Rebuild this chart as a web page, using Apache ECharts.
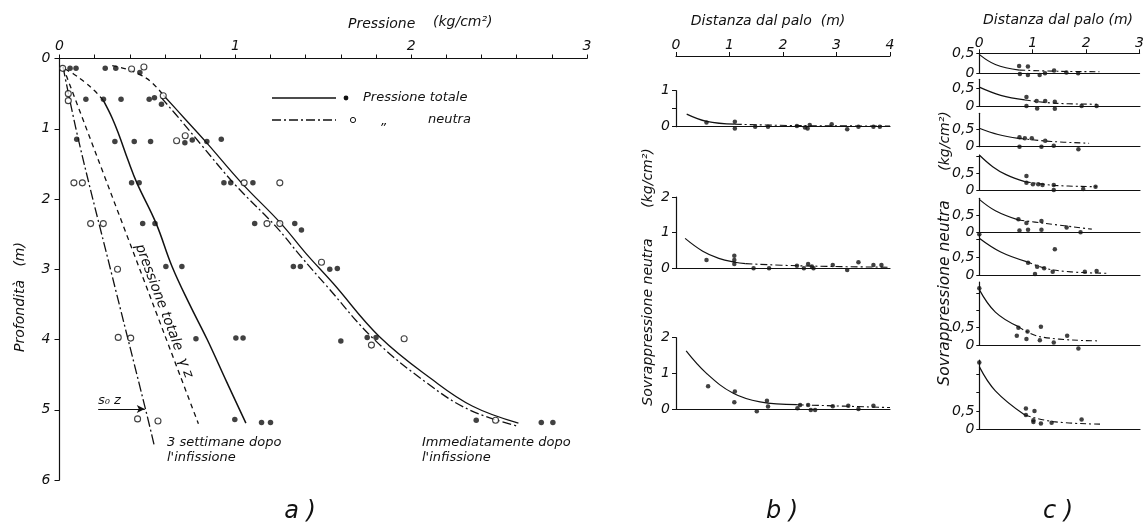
<!DOCTYPE html>
<html>
<head>
<meta charset="utf-8">
<script src="https://cdn.jsdelivr.net/npm/echarts@6/dist/echarts.min.js"></script>
<style>
  html, body { margin: 0; padding: 0; background: #fff; }
  #main { width: 1147px; height: 528px; }
</style>
</head>
<body>
<div id="main"></div>
<script>
var INK = '#111';
var FONT = 'DejaVu Sans';

/* ---------- panel a: pressione / profondità ---------- */
var pressMax = 3;
var depthMax = 6;
// pressione totale (punti pieni) [pressione, profondità]
var aTotale = [
  [0.06, 0.14], [0.094, 0.14], [0.26, 0.14], [0.32, 0.14], [0.457, 0.2],
  [0.15, 0.58], [0.25, 0.58], [0.35, 0.58], [0.51, 0.58], [0.54, 0.56], [0.58, 0.65],
  [0.098, 1.15], [0.315, 1.18], [0.425, 1.18], [0.518, 1.18], [0.713, 1.2], [0.755, 1.16], [0.838, 1.18], [0.92, 1.15],
  [0.41, 1.77], [0.453, 1.77], [0.935, 1.77], [0.974, 1.77], [1.10, 1.77],
  [0.473, 2.35], [0.543, 2.35], [1.11, 2.35], [1.338, 2.35], [1.376, 2.44],
  [0.605, 2.96], [0.696, 2.96], [1.33, 2.96], [1.37, 2.96], [1.537, 3.0], [1.58, 2.99],
  [0.776, 3.99], [1.003, 3.98], [1.044, 3.98], [1.60, 4.02], [1.75, 3.97], [1.80, 3.97],
  [0.997, 5.14], [1.149, 5.18], [1.2, 5.18], [2.37, 5.15], [2.74, 5.18], [2.806, 5.18]
];
// pressione neutra (punti vuoti)
var aNeutra = [
  [0.018, 0.14], [0.41, 0.15], [0.48, 0.12], [0.05, 0.5], [0.05, 0.6], [0.59, 0.53],
  [0.666, 1.17], [0.715, 1.10], [0.082, 1.77], [0.13, 1.77], [1.05, 1.77], [1.253, 1.77],
  [0.177, 2.35], [0.249, 2.35], [1.18, 2.35], [1.253, 2.35], [0.33, 3.0], [1.49, 2.9],
  [0.334, 3.97], [0.405, 3.98], [1.774, 4.08], [1.96, 3.99], [0.444, 5.13], [0.56, 5.16], [2.48, 5.15]
];
var immInizio = [[0.3, 0.1], [0.38, 0.15], [0.45, 0.22], [0.52, 0.33], [0.59, 0.52]];
var immTotale = [[0.59, 0.52], [0.71, 0.85], [0.83, 1.18], [1.035, 1.77], [1.26, 2.35], [1.4, 2.77], [1.556, 3.2], [1.82, 3.96], [2.12, 4.57], [2.35, 4.95], [2.61, 5.19]];
var immNeutra = [[0.58, 0.56], [0.69, 0.88], [0.8, 1.21], [1.0, 1.8], [1.23, 2.39], [1.37, 2.81], [1.52, 3.24], [1.79, 4.0], [2.09, 4.62], [2.33, 5.0], [2.6, 5.23]];
var setInizio = [[0.03, 0.15], [0.08, 0.22], [0.14, 0.33], [0.2, 0.46], [0.25, 0.6]];
var setTotale = [[0.25, 0.6], [0.3, 0.85], [0.34, 1.1], [0.39, 1.45], [0.44, 1.77], [0.55, 2.35], [0.64, 2.96], [0.74, 3.5], [0.84, 4.0], [0.95, 4.6], [1.06, 5.19]];
var gammaZ = [[0.02, 0.12], [0.79, 5.2]];
var s0z = [[0.02, 0.12], [0.11, 1.18], [0.29, 3.0], [0.49, 5.0], [0.54, 5.52]];
var s0zFreccia = [[0.22, 4.99], [0.485, 4.99]];

/* ---------- panel b: sovrappressione neutra ---------- */
var bDistMax = 4;
var bMax = [1, 2, 2];
var bPunti = [
  [[0.57, 0.12], [1.10, 0.14], [1.10, -0.05], [1.48, 0], [1.72, 0], [2.26, 0.02], [2.41, -0.02], [2.50, 0.05], [2.46, -0.05], [2.91, 0.07], [3.20, -0.07], [3.41, 0], [3.69, 0], [3.81, 0]],
  [[0.57, 0.23], [1.09, 0.35], [1.09, 0.23], [1.09, 0.12], [1.45, 0], [1.74, 0], [2.26, 0.07], [2.39, 0], [2.47, 0.12], [2.54, 0.05], [2.57, 0], [2.93, 0.09], [3.20, -0.05], [3.41, 0.17], [3.69, 0.09], [3.84, 0.09]],
  [[0.60, 0.64], [1.10, 0.49], [1.09, 0.19], [1.51, -0.06], [1.70, 0.23], [1.72, 0.07], [2.27, 0.02], [2.32, 0.11], [2.47, 0.11], [2.52, -0.03], [2.60, -0.03], [2.93, 0.08], [3.22, 0.09], [3.41, 0], [3.69, 0.09]]
];
var bCurva = [
  [[0.2, 0.35], [0.57, 0.15], [1.1, 0.07]],
  [[0.17, 0.84], [0.5, 0.48], [0.8, 0.28], [1.1, 0.17], [1.3, 0.13]],
  [[0.19, 1.63], [0.57, 1.0], [1.07, 0.44], [1.57, 0.2], [2.26, 0.12]]
];
var bCoda = [
  [[1.1, 0.07], [2.3, 0.03], [4.0, 0.02]],
  [[1.3, 0.13], [2.3, 0.07], [4.0, 0.03]],
  [[2.26, 0.12], [4.0, 0.04]]
];

/* ---------- panel c ---------- */
var cDistMax = 3;
var cMax = [0.5, 0.75, 0.96, 1.05, 0.97, 1.16, 1.82, 1.89];
var cPunti = [
  [[0.746, 0.18], [0.91, 0.17], [0.76, -0.02], [0.91, -0.04], [1.13, -0.04], [1.23, 0], [1.40, 0.07], [1.63, 0.02], [1.85, 0]],
  [[0.88, 0.25], [1.07, 0.14], [1.23, 0.14], [1.41, 0.12], [0.88, 0], [1.08, -0.07], [1.41, -0.08], [1.91, 0], [2.19, 0]],
  [[0.75, 0.27], [0.85, 0.24], [0.98, 0.24], [1.23, 0.17], [0.75, 0], [1.16, 0], [1.39, 0.03], [1.85, -0.07]],
  [[0.88, 0.42], [0.88, 0.22], [1.0, 0.17], [1.1, 0.17], [1.18, 0.15], [1.39, 0.15], [1.39, 0], [1.94, 0.03], [2.17, 0.1]],
  [[0.73, 0.38], [0.88, 0.27], [1.16, 0.33], [1.63, 0.15], [0.75, 0.06], [0.91, 0.08], [1.16, 0.08], [1.89, 0.01]],
  [[0, 1.15], [0.91, 0.35], [1.08, 0.23], [1.21, 0.19], [1.04, 0.03], [1.37, 0.09], [1.41, 0.73], [1.97, 0.09], [2.19, 0.11]],
  [[0, 1.64], [0.73, 0.5], [0.9, 0.39], [1.15, 0.53], [0.7, 0.27], [0.88, 0.17], [1.13, 0.14], [1.39, 0.07], [1.64, 0.27], [1.85, -0.1]],
  [[0, 1.82], [0.87, 0.57], [1.03, 0.5], [0.87, 0.39], [1.01, 0.25], [1.01, 0.2], [1.15, 0.16], [1.35, 0.18], [1.91, 0.27]]
];
var cCurva = [
  [[0.01, 0.46], [0.3, 0.22], [0.75, 0.08]],
  [[0, 0.53], [0.4, 0.3], [0.85, 0.17]],
  [[0, 0.53], [0.35, 0.35], [0.73, 0.24]],
  [[0, 1.05], [0.25, 0.7], [0.5, 0.46], [0.85, 0.25]],
  [[0, 0.94], [0.3, 0.62], [0.73, 0.36]],
  [[0, 1.04], [0.4, 0.65], [0.88, 0.38]],
  [[0, 1.6], [0.3, 0.95], [0.73, 0.53]],
  [[0, 1.71], [0.3, 1.05], [0.85, 0.39]]
];
var cCoda = [
  [[0.75, 0.08], [1.5, 0.05], [2.25, 0.04]],
  [[0.85, 0.17], [1.4, 0.08], [2.2, 0.05]],
  [[0.73, 0.24], [1.35, 0.15], [2.05, 0.1]],
  [[0.85, 0.25], [1.4, 0.14], [2.19, 0.1]],
  [[0.73, 0.36], [1.19, 0.27], [2.1, 0.1]],
  [[0.88, 0.38], [1.38, 0.14], [2.38, 0.05]],
  [[0.73, 0.53], [1.13, 0.24], [2.22, 0.12]],
  [[0.85, 0.39], [1.38, 0.21], [2.28, 0.14]]
];

/* ---------- layout (pixel) ---------- */
var bBox = [{ top: 90.7, zero: 126.7 }, { top: 197, zero: 268.3 }, { top: 337.7, zero: 409 }];
var cBox = [
  { top: 53.3, zero: 73.3 }, { top: 79.3, zero: 106 }, { top: 113.3, zero: 146.7 }, { top: 155, zero: 190 },
  { top: 198.3, zero: 232.7 }, { top: 234, zero: 275 }, { top: 282, zero: 345 }, { top: 360, zero: 429.3 }
];

var lbl = { color: INK, fontFamily: FONT, fontStyle: 'italic', fontSize: 14 };
function near(v, t) { return Math.abs(v - t) < 1e-6; }

var grids = [], xAxes = [], yAxes = [], series = [];

function dots(data, idx, filled, size) {
  return {
    type: 'scatter', xAxisIndex: idx, yAxisIndex: idx, data: data, symbol: 'circle',
    symbolSize: size, clip: false, silent: true, z: 3,
    itemStyle: filled ? { color: INK } : { color: '#fff', borderColor: INK, borderWidth: 1.1 }
  };
}
function curve(data, idx, type, w) {
  return {
    type: 'line', xAxisIndex: idx, yAxisIndex: idx, data: data, smooth: 0.4,
    showSymbol: false, symbol: 'none', clip: false, silent: true, z: 1,
    lineStyle: { color: INK, width: w || 1.3, type: type || 'solid' }
  };
}

/* grid 0: panel a */
grids.push({ left: 59.5, top: 58.5, width: 527.5, height: 421.5 });
xAxes.push({
  gridIndex: 0, type: 'value', position: 'top', min: 0, max: pressMax, interval: 0.2,
  axisLine: { lineStyle: { color: INK, width: 1.2 } },
  axisTick: { length: 4, lineStyle: { color: INK } },
  axisLabel: Object.assign({ margin: 5, formatter: function (v) { return near(v, Math.round(v)) ? String(Math.round(v)) : ''; } }, lbl),
  splitLine: { show: false }
});
yAxes.push({
  gridIndex: 0, type: 'value', inverse: true, min: 0, max: depthMax, interval: 1,
  axisLine: { show: true, lineStyle: { color: INK, width: 1.2 } },
  axisTick: { show: true, length: 5, lineStyle: { color: INK } },
  axisLabel: Object.assign({ margin: 9 }, lbl),
  splitLine: { show: false }
});
series.push(curve(immInizio, 0, [5, 4]));
series.push(curve(immTotale, 0, 'solid'));
series.push(curve(immNeutra, 0, [9, 3, 2, 3]));
series.push(curve(setInizio, 0, [5, 4]));
series.push(curve(setTotale, 0, 'solid', 1.5));
series.push(curve(gammaZ, 0, [5, 4]));
series.push(curve(s0z, 0, [10, 3, 2, 3]));
series.push(dots(aTotale, 0, true, 5.5));
series.push(dots(aNeutra, 0, false, 6));
series.push({
  type: 'line', xAxisIndex: 0, yAxisIndex: 0, data: [], silent: true,
  markLine: {
    silent: true, symbol: ['none', 'arrow'], symbolSize: [6, 8], animation: false,
    label: { show: false }, lineStyle: { color: INK, type: 'solid', width: 1 },
    data: [[{ coord: s0zFreccia[0] }, { coord: s0zFreccia[1] }]]
  }
});

/* grid 1: panel b top axis */
grids.push({ left: 676, top: 55, width: 214, height: 1 });
xAxes.push({
  gridIndex: 1, type: 'value', position: 'top', min: 0, max: bDistMax, interval: 1,
  axisLine: { lineStyle: { color: INK, width: 1.2 } },
  axisTick: { length: 4, lineStyle: { color: INK } },
  axisLabel: Object.assign({ margin: 3 }, lbl), splitLine: { show: false }
});
yAxes.push({ gridIndex: 1, type: 'value', show: false, min: 0, max: 1 });

/* grids 2-4: panel b */
bBox.forEach(function (b, i) {
  var g = grids.length;
  grids.push({ left: 676, top: b.top, width: 214, height: b.zero - b.top });
  xAxes.push({
    gridIndex: g, type: 'value', min: 0, max: bDistMax,
    axisLine: { onZero: false, lineStyle: { color: INK, width: 1.2 } },
    axisTick: { show: false }, axisLabel: { show: false }, splitLine: { show: false }
  });
  yAxes.push({
    gridIndex: g, type: 'value', min: 0, max: bMax[i], interval: i === 0 ? 0.5 : 1,
    axisLine: { show: true, lineStyle: { color: INK, width: 1.2 } },
    axisTick: { show: true, length: 4, lineStyle: { color: INK } },
    axisLabel: Object.assign({ margin: 6, formatter: function (v) { return near(v, Math.round(v)) ? String(Math.round(v)) : ''; } }, lbl),
    splitLine: { show: false }
  });
  series.push(curve(bCurva[i], g, 'solid', 1.2));
  series.push(curve(bCoda[i], g, [7, 3, 2, 3], 1.1));
  series.push(dots(bPunti[i], g, true, 4.5));
});

/* grids 5-12: panel c */
var cFirst = grids.length;
cBox.forEach(function (b, i) {
  var g = grids.length;
  grids.push({ left: 979.3, top: b.top, width: 160.7, height: b.zero - b.top });
  xAxes.push({
    gridIndex: g, type: 'value', min: 0, max: cDistMax,
    axisLine: { onZero: false, lineStyle: { color: INK, width: 1.2 } },
    axisTick: { show: false }, axisLabel: { show: false }, splitLine: { show: false }
  });
  yAxes.push({
    gridIndex: g, type: 'value', min: 0, max: cMax[i], interval: 0.5,
    axisLine: { show: true, lineStyle: { color: INK, width: 1.2 } },
    axisTick: { show: true, length: 3, lineStyle: { color: INK } },
    axisLabel: Object.assign({ margin: 5, showMaxLabel: near(cMax[i], 0.5),
      formatter: function (v) { return near(v, 0) ? '0' : (near(v, 0.5) ? '0,5' : ''); } }, lbl),
    splitLine: { show: false }
  });
  series.push(curve(cCurva[i], g, 'solid', 1.2));
  series.push(curve(cCoda[i], g, [6, 3, 2, 3], 1.1));
  series.push(dots(cPunti[i], g, true, 4.5));
});
/* panel c top axis on the first c grid */
xAxes.push({
  gridIndex: cFirst, type: 'value', position: 'top', min: 0, max: cDistMax, interval: 1,
  axisLine: { onZero: false, lineStyle: { color: INK, width: 1.2 } },
  axisTick: { length: 4, lineStyle: { color: INK } },
  axisLabel: Object.assign({ margin: 3 }, lbl), splitLine: { show: false }
});

function txt(x, y, s, size, align, rot) {
  return {
    type: 'text', x: x, y: y, rotation: rot || 0, silent: true,
    style: { text: s, fill: INK, font: 'italic ' + (size || 14) + 'px "' + FONT + '"', align: align || 'left', verticalAlign: 'middle' }
  };
}

var graphics = [
  txt(348, 24, 'Pressione', 14),
  txt(433, 22, '(kg/cm²)', 14),
  txt(20, 297, 'Profondità   (m)', 14, 'center', Math.PI / 2),
  txt(164, 311, 'pressione totale  γ z', 14, 'center', -1.21),
  txt(98, 401, 's₀ z', 13),
  txt(167, 443, '3 settimane dopo', 13),
  txt(167, 458, "l'infissione", 13),
  txt(422, 443, 'Immediatamente dopo', 13),
  txt(422, 458, "l'infissione", 13),
  txt(363, 98, 'Pressione totale', 13),
  txt(381, 122, '„', 13),
  txt(428, 120, 'neutra', 13),
  txt(768, 21, 'Distanza dal palo  (m)', 14, 'center'),
  txt(648, 178, '(kg/cm²)', 14, 'center', Math.PI / 2),
  txt(648, 322, 'Sovrappressione neutra', 14, 'center', Math.PI / 2),
  txt(1058, 20, 'Distanza dal palo (m)', 14, 'center'),
  txt(945, 141, '(kg/cm²)', 14, 'center', Math.PI / 2),
  txt(945, 293, 'Sovrappressione neutra', 15.5, 'center', Math.PI / 2),
  txt(300, 512, 'a )', 24, 'center'),
  txt(782, 512, 'b )', 24, 'center'),
  txt(1058, 512, 'c )', 24, 'center'),
  { type: 'line', silent: true, shape: { x1: 272, y1: 98, x2: 336, y2: 98 }, style: { stroke: INK, lineWidth: 1.3 } },
  { type: 'circle', silent: true, shape: { cx: 346, cy: 98, r: 2.4 }, style: { fill: INK } },
  { type: 'line', silent: true, shape: { x1: 272, y1: 120, x2: 336, y2: 120 }, style: { stroke: INK, lineWidth: 1.3, lineDash: [9, 3, 2, 3] } },
  { type: 'circle', silent: true, shape: { cx: 353, cy: 120, r: 2.6 }, style: { fill: '#fff', stroke: INK, lineWidth: 1 } }
];

var myChart = echarts.init(document.getElementById('main'));
myChart.setOption({
  animation: false,
  backgroundColor: '#fff',
  textStyle: { fontFamily: FONT },
  grid: grids,
  xAxis: xAxes,
  yAxis: yAxes,
  series: series,
  graphic: graphics
});
</script>
</body>
</html>
